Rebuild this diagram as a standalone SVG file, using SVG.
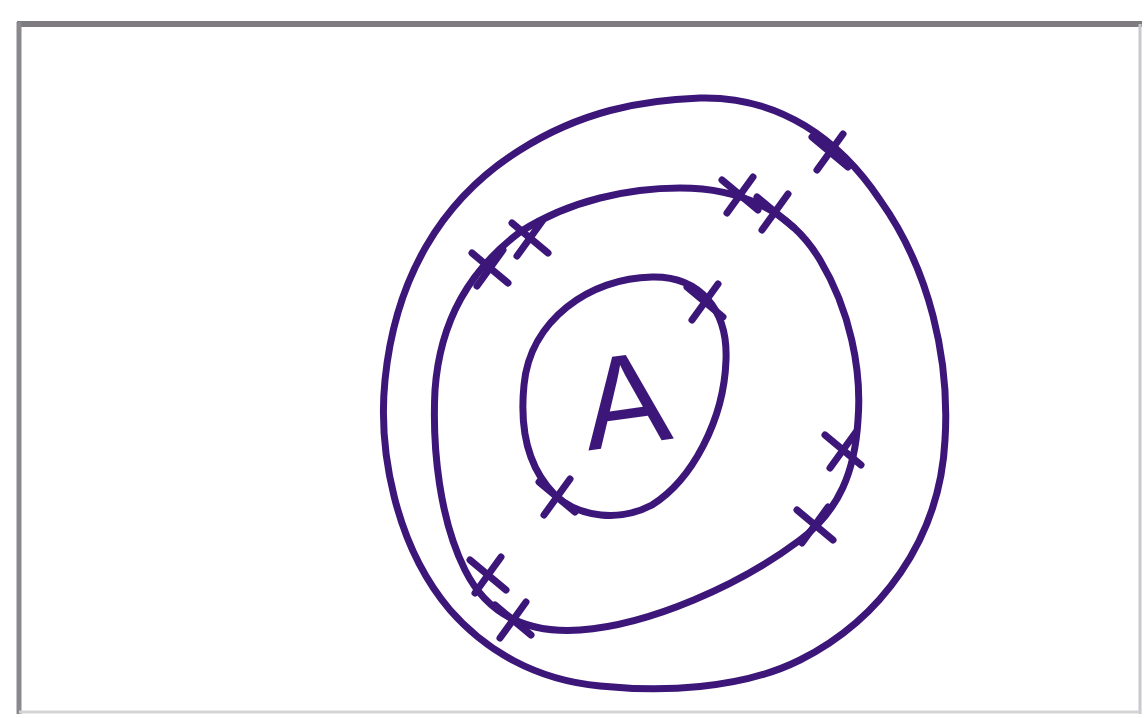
<svg xmlns="http://www.w3.org/2000/svg" width="1145" height="718" viewBox="0 0 1145 718">
  <defs>
    <style>
      .shell{fill:none;stroke:#3c1679;stroke-width:7;stroke-linecap:round;stroke-linejoin:round}
      .e{fill:none;stroke:#3c1679;stroke-width:7;stroke-linecap:round}
      .lbl{font-family:"Liberation Sans",Arial,sans-serif;font-size:130px;fill:#3c1679}
    </style>
    <g id="xm"><path d="M-18,-15 L18,15 M-13,18 L13,-18"/></g>
  </defs>
  <rect width="1145" height="718" fill="#ffffff"/>
  <g id="frame">
    <line x1="17" y1="24" x2="1142" y2="24" stroke="#7d7a80" stroke-width="6"/>
    <line x1="19" y1="22" x2="19" y2="714" stroke="#8a888c" stroke-width="5"/>
    <line x1="1140" y1="24" x2="1140" y2="714" stroke="#c9c8cc" stroke-width="3"/>
    <line x1="19" y1="712" x2="1140" y2="712" stroke="#d4d3d6" stroke-width="3"/>
  </g>
  <g id="shell3">
    <path class="shell" d="M 700,98 C 780,96 840,140 880,200 C 930,270 950,360 945,440 C 940,540 880,620 800,660 C 740,690 660,692 600,686 C 535,680 485,650 450,610 C 395,545 378,450 385,380 C 395,280 440,200 520,150 C 580,112 640,100 700,98 Z"/>
  </g>
  <g id="shell2">
    <path class="shell" d="M 680,188 C 740,188 790,210 820,260 C 850,310 862,370 858,420 C 855,470 840,510 800,540 C 740,585 650,625 580,630 C 520,634 485,610 465,570 C 440,520 432,450 435,390 C 440,320 470,270 520,232 C 570,200 630,188 680,188 Z"/>
  </g>
  <g id="shell1">
    <path class="shell" d="M 652,277 C 700,276 728,310 726,360 C 724,420 692,480 652,505 C 620,522 580,518 555,495 C 525,465 520,425 524,385 C 530,320 590,278 652,277 Z"/>
  </g>
  <g id="nucleus">
    <text class="lbl" x="625" y="445" text-anchor="middle" transform="rotate(-8 625 400)">A</text>
  </g>
  <g id="electrons" class="e">
    <use href="#xm" transform="translate(705,302)"/>
    <use href="#xm" transform="translate(557,497)"/>
    <use href="#xm" transform="translate(490,268)"/>
    <use href="#xm" transform="translate(530,238)"/>
    <use href="#xm" transform="translate(740,195)"/>
    <use href="#xm" transform="translate(775,212)"/>
    <use href="#xm" transform="translate(843,450)"/>
    <use href="#xm" transform="translate(815,525)"/>
    <use href="#xm" transform="translate(488,575)"/>
    <use href="#xm" transform="translate(513,620)"/>
    <use href="#xm" transform="translate(830,152)"/>
  </g>
</svg>
